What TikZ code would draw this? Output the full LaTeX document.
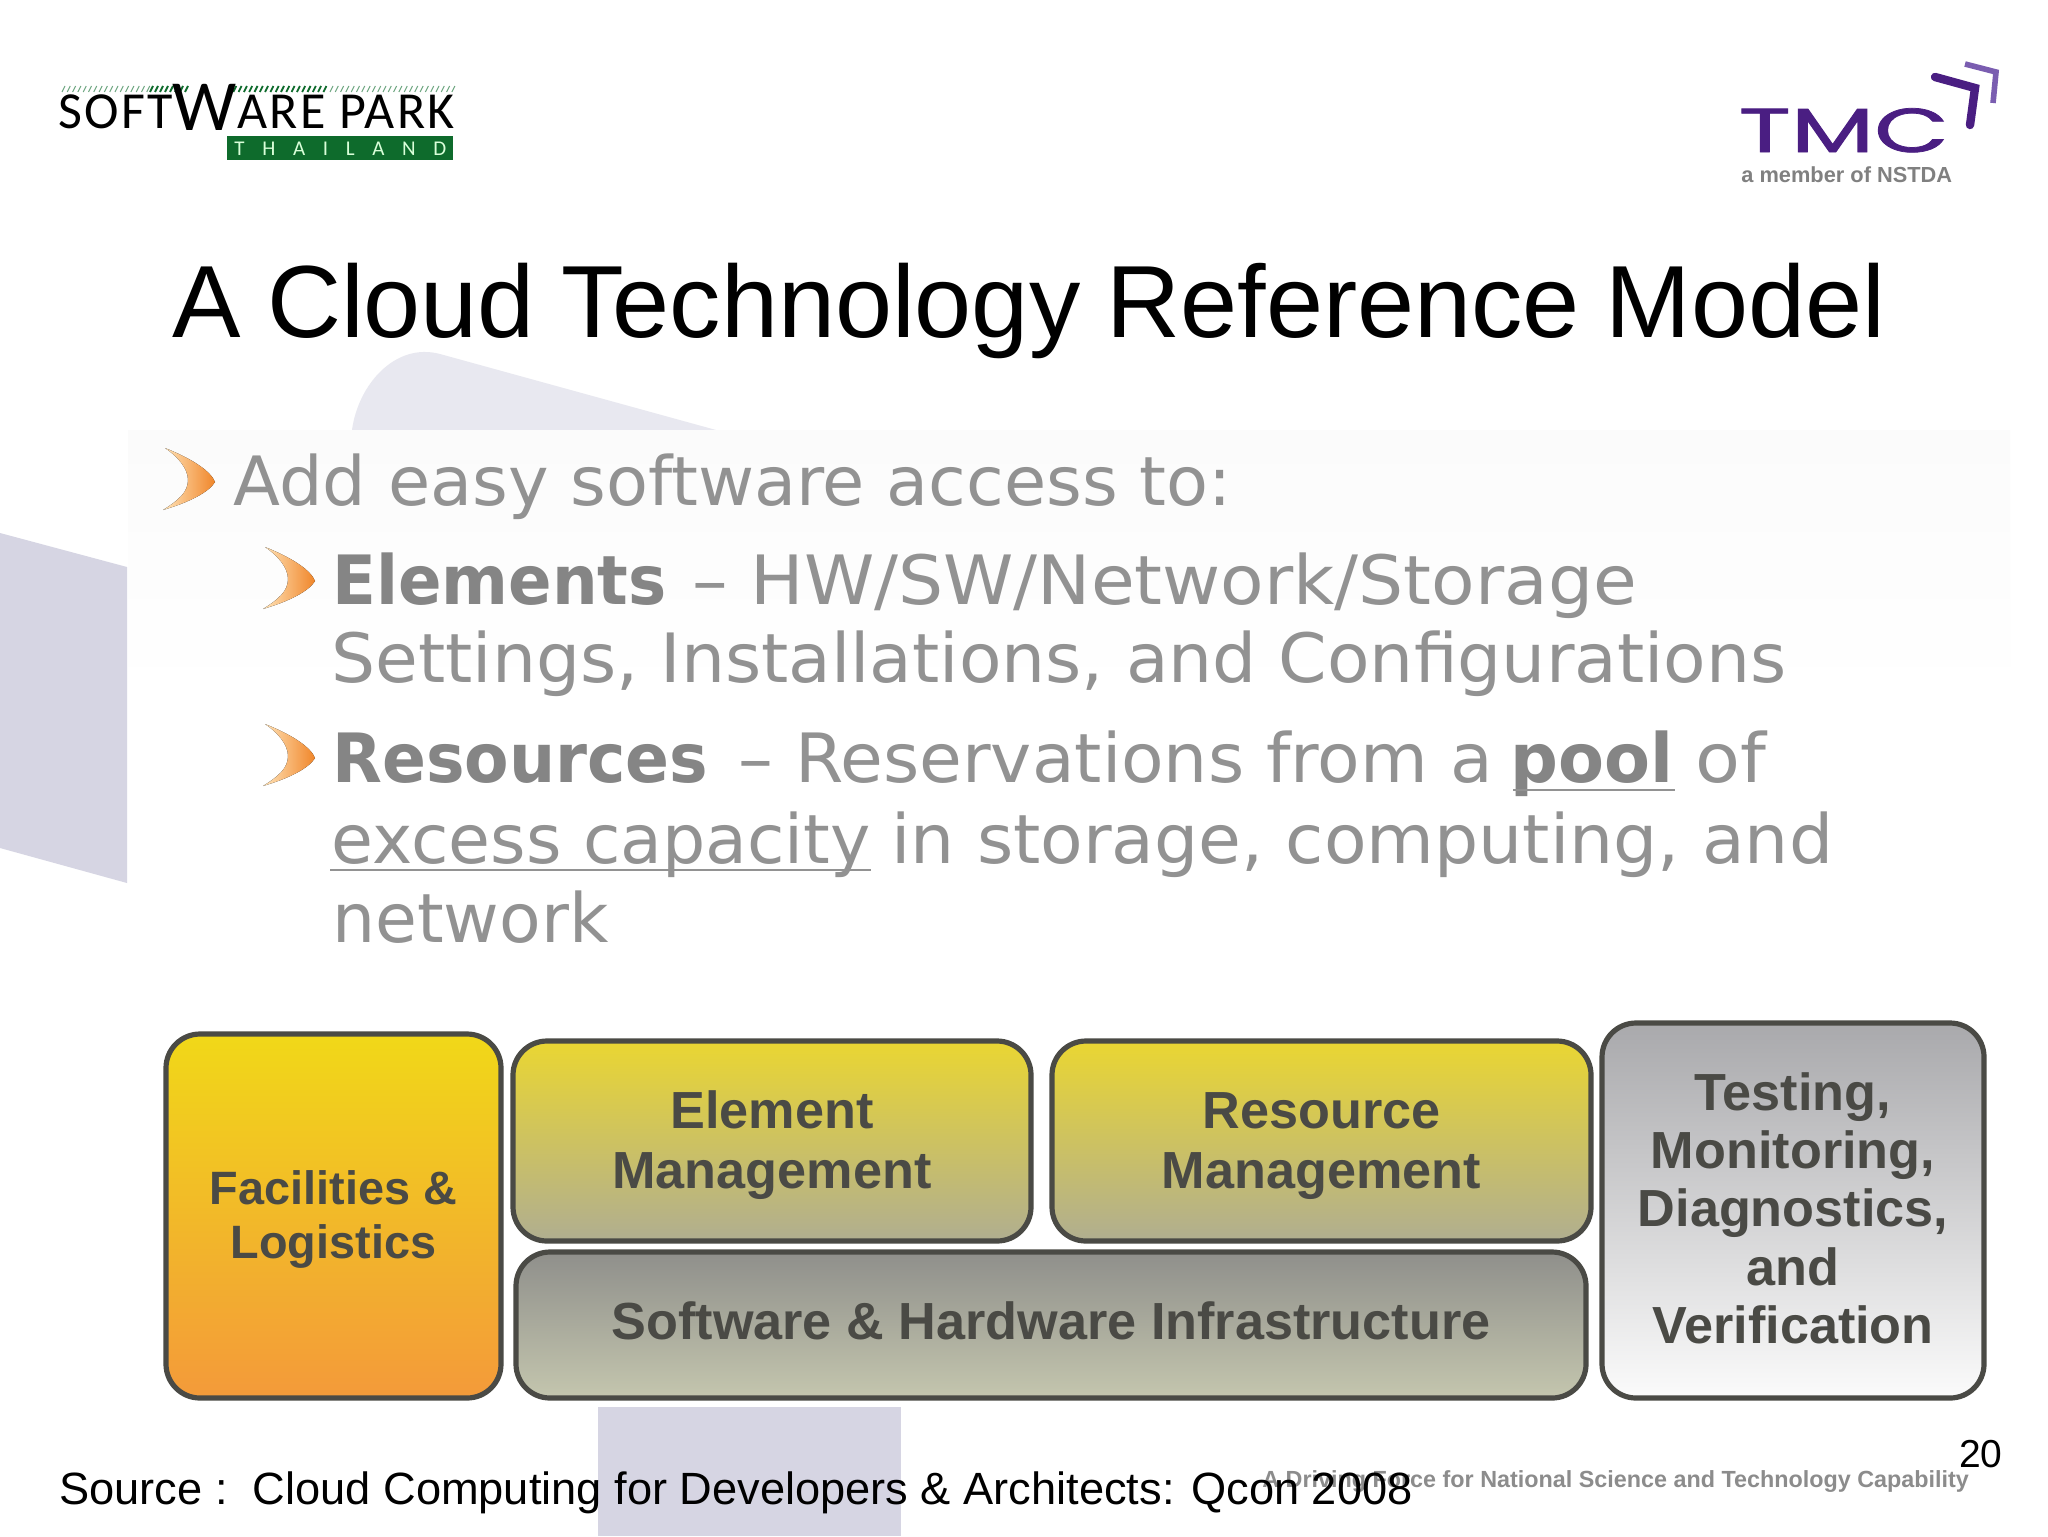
\documentclass[tikz,border=0pt]{standalone}
\usepackage{fontspec}
\setmainfont{Liberation Sans}
\newfontfamily\veraf{DejaVu Sans}
\newfontfamily\popf[FakeBold=1.2]{Poppins}
\newfontfamily\logof{Carlito}
\newfontfamily\titlef[WordSpace=0.92]{Liberation Sans}
\definecolor{lav}{HTML}{D6D5E3}
\definecolor{lavl}{HTML}{E8E8F0}
\definecolor{edgec}{HTML}{4A4A45}
\definecolor{txtc}{HTML}{4A4A45}
\definecolor{bodyg}{HTML}{929292}
\definecolor{boldg}{HTML}{858585}
\definecolor{tmcp}{HTML}{4A1E82}
\definecolor{tmcl}{HTML}{7A5DB0}
\definecolor{parkg}{HTML}{0E6B2C}
\definecolor{facT}{HTML}{F1D818}
\definecolor{facM}{HTML}{F4B82A}
\definecolor{facB}{HTML}{F39A3A}
\definecolor{mgmtT}{HTML}{EAD632}
\definecolor{mgmtM}{HTML}{D9CC62}
\definecolor{mgmtB}{HTML}{B0AE90}
\definecolor{swT}{HTML}{8F8F8B}
\definecolor{swB}{HTML}{C4C6AE}
\definecolor{tstT}{HTML}{A9A9AC}
\definecolor{tstM}{HTML}{DDE0E2}
\definecolor{tstB}{HTML}{FBFBFB}
\definecolor{chevL}{HTML}{FFE3B8}
\definecolor{chevR}{HTML}{F0862A}
\definecolor{panelc}{HTML}{FBFBFB}
\tikzset{
  bx/.style={draw=edgec,line width=2.6pt,outer sep=0pt,rounded corners=17pt,inner sep=0pt,align=center,text=txtc,font=\bfseries\fontsize{26.1}{30}\selectfont,anchor=north west},
  mgmt/.style={top color=mgmtT,middle color=mgmtM,bottom color=mgmtB},
  body/.style={anchor=base west,inner sep=0pt,text=bodyg,font=\veraf\fontsize{34}{40}\selectfont},
  boldbody/.style={body,text=boldg,font=\veraf\bfseries\fontsize{34}{40}\selectfont},
  chevron/.style={left color=chevL,right color=chevR,draw=none}
}
\newcommand{\bul}[2]{%
  \fill[chevron,shift={(#1,#2)}] (0,0) .. controls (30,12) and (46,24) .. (50,34) .. controls (44,44) and (25,54) .. (-2,62) .. controls (14,52) and (23,44) .. (23,32) .. controls (23,20) and (12,8) .. cycle;}
\begin{document}
\begin{tikzpicture}[x=0.5pt,y=-0.5pt]
\useasboundingbox (0,0) rectangle (2048,1536);
\fill[white] (0,0) rectangle (2048,1536);
% background shapes
\fill[lavl] (352,430) .. controls (358,385) and (395,342) .. (440,354) -- (716,430) -- cycle;
\fill[lav] (0,533) -- (127,567) -- (127,883) -- (0,848) -- cycle;
\fill[lav] (598,1407) rectangle (901,1536);
\shade[top color=panelc,bottom color=white] (128,430) rectangle (2010,700);
% logo
\foreach \i in {0,...,16} {\draw[parkg!60!white,line width=0.5pt] (62+\i*5.3,92) -- (65+\i*5.3,86);}
\foreach \i in {0,...,7} {\draw[parkg,line width=1pt] (150+\i*5,92) -- (153+\i*5,86);}
\foreach \i in {0,...,18} {\draw[parkg,line width=0.9pt] (228+\i*5.3,92) -- (231+\i*5.3,86);}
\foreach \i in {0,...,23} {\draw[parkg!60!white,line width=0.5pt] (330+\i*5.3,92) -- (333+\i*5.3,86);}
\node[anchor=base west,inner sep=0pt,font=\logof\fontsize{26}{30}\selectfont\addfontfeature{LetterSpace=4.5},text=black] (sp) at (58,128) {SOFT\raisebox{-1pt}{\fontsize{36}{40}\selectfont W}ARE PARK};
\node[anchor=north west,fill=parkg,text=white!85!green,minimum width=113pt,minimum height=12pt,inner sep=0pt,font=\logof\fontsize{10.5}{12}\selectfont] (th) at (227,136) {\makebox[106pt][s]{T\hfill H\hfill A\hfill I\hfill L\hfill A\hfill N\hfill D}};
% TMC logo
\node[anchor=base west,inner sep=0pt,font=\popf\fontsize{31}{31}\selectfont,text=tmcp,xscale=1.56] (tmc) at (1738,152) {TMC};
\draw[tmcp,line width=4.2pt,line cap=round] (1935,77) -- (1975,88) -- (1970,125);
\draw[tmcl,line width=2.8pt] (1965,64) -- (1996,72) -- (1993,103);
\node[anchor=base west,inner sep=0pt,text=gray,font=\bfseries\fontsize{10.9}{12}\selectfont] (mem) at (1741,182) {a member of NSTDA};
% title
\node[anchor=base west,inner sep=0pt,font=\titlef\fontsize{51.3}{60}\selectfont] (title) at (172,337) {A Cloud Technology Reference Model};
% bullets
\bul{165}{448}
\bul{265}{547}
\bul{265}{724}
\node[body,xscale=1.009] (l1) at (233,505) {Add easy software access to:};
\node[boldbody,xscale=.944] (l2a) at (332,604) {Elements};
\node[body,xscale=1.046] (l2b) at (692,604) {– HW/SW/Network/Storage};
\node[body,xscale=1.022] (l3) at (331,682) {Settings, Installations, and Configurations};
\node[boldbody,xscale=.953] (l4a) at (332,782) {Resources};
\node[body,xscale=1.023] (l4b) at (738,782) {– Reservations from a};
\node[boldbody,xscale=.984] (l4c) at (1510,782) {pool};
\node[body,xscale=1.08] (l4d) at (1695,782) {of};
\node[body,xscale=1.002] (l5a) at (331,863) {excess capacity};
\node[body,xscale=1.024] (l5b) at (891,863) {in storage, computing, and};
\node[body] (l6) at (332,942) {network};
\draw[bodyg,line width=1pt] (1513,790) -- (1675,790);
\draw[bodyg,line width=1pt] (330,870) -- (871,870);
% boxes
\node[bx,minimum width=167.5pt,minimum height=182pt,top color=facT,middle color=facM,bottom color=facB,font=\bfseries\fontsize{23.4}{26.7}\selectfont] (fac) at (166,1034) {\rule{0pt}{20.5pt}Facilities \&\\Logistics};
\node[bx,mgmt,minimum width=259pt,minimum height=100pt] (el) at (513,1041) {\rule{0pt}{23.3pt}Element\\Management};
\node[bx,mgmt,minimum width=269.5pt,minimum height=100pt] (res) at (1052,1041) {\rule{0pt}{23.3pt}Resource\\Management};
\node[bx,minimum width=535pt,minimum height=73pt,top color=swT,bottom color=swB] (sw) at (516,1252) {Software \& Hardware Infrastructure\rule[-4pt]{0pt}{0pt}};
\node[bx,minimum width=191pt,minimum height=187.5pt,top color=tstT,middle color=tstM,bottom color=tstB,font=\bfseries\fontsize{26.1}{29.2}\selectfont] (test) at (1602,1023) {Testing,\\Monitoring,\\Diagnostics,\\and\\Verification\rule[-2.6pt]{0pt}{0pt}};
% footer
\node[anchor=base west,inner sep=0pt,font=\bfseries\fontsize{11.67}{12}\selectfont,text=gray!90] (drive) at (1262,1487) {A Driving Force for National Science and Technology Capability};
\node[anchor=base east,inner sep=0pt,font=\fontsize{19.5}{22}\selectfont] (pg) at (2003,1467) {20};
\node[anchor=base west,inner sep=0pt,font=\fontsize{22.6}{26}\selectfont] (src) at (59,1504) {Source :\ \ Cloud Computing for Developers \& Architects: Qcon 2008};
\end{tikzpicture}
\end{document}
